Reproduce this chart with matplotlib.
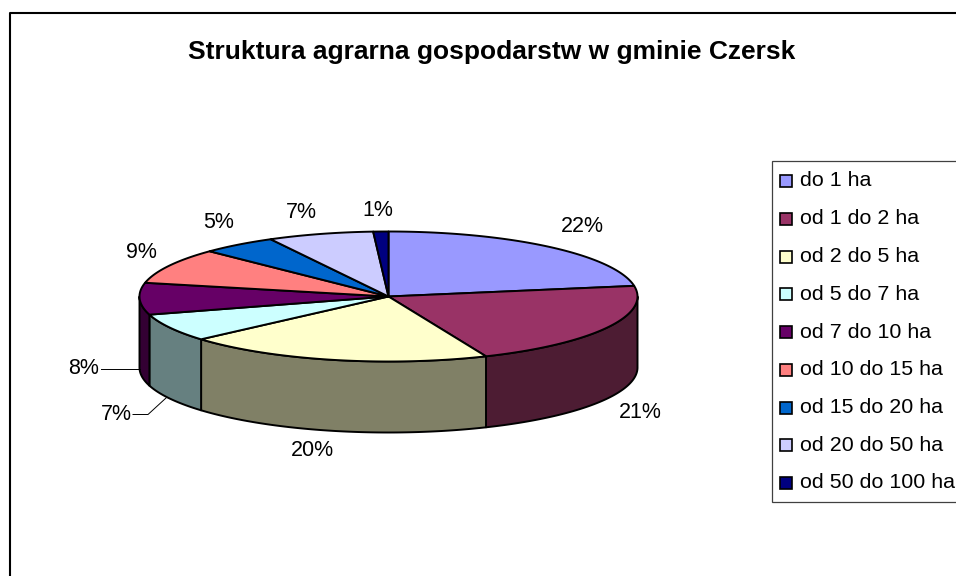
import numpy as np
import matplotlib
matplotlib.use("Agg")
import matplotlib.pyplot as plt
from matplotlib.patches import Polygon, Rectangle

plt.rcParams['font.family'] = ['Liberation Sans', 'DejaVu Sans']

# Chart data
categories = ["do 1 ha", "od 1 do 2 ha", "od 2 do 5 ha", "od 5 do 7 ha", "od 7 do 10 ha",
              "od 10 do 15 ha", "od 15 do 20 ha", "od 20 do 50 ha", "od 50 do 100 ha"]
values = [22, 21, 20, 7, 8, 9, 5, 7, 1]
colors = ["#9999FF", "#993366", "#FFFFCC", "#CCFFFF", "#660066",
          "#FF8080", "#0066CC", "#CCCCFF", "#000080"]
side_colors = ["#4D1A33", "#4D1C33", "#808066", "#668080", "#330033",
               "#804040", "#003366", "#666680", "#000040"]
title = "Struktura agrarna gospodarstw w gminie Czersk"

# Layout in pixels
cx, cy = 388.5, 296.5
rx, ry = 249, 65
depth = 71
label_xy = [(582, 226), (640, 412), (312, 451), (116, 414), (84, 368),
            (141, 253), (219, 223), (301, 212), (378, 210)]

fig = plt.figure(figsize=(9.56, 5.76), dpi=100)
ax = fig.add_axes([0, 0, 1, 1])
ax.set_xlim(0, 956)
ax.set_ylim(576, 0)
ax.axis("off")

# Outer chart frame, cut off by the image on the right and bottom
ax.plot([10.5, 10.5, 956], [576, 12.5, 12.5], color="black", lw=1.5, solid_capstyle="butt")


def warp(a):
    # the 3D projection in the original pushes the slice edges round a little
    return a + 2.2 * np.sin(np.radians(a) / 2)


def arc(a0, a1, dy=0):
    # angles in degrees, clockwise from 12 o'clock
    t = np.radians(np.linspace(a0, a1, max(int(abs(a1 - a0) * 2), 2)))
    return np.column_stack([cx + rx * np.sin(t), cy - ry * np.cos(t) + dy])


edges = warp(np.cumsum([0] + values) / sum(values) * 360)

# Side walls, only the front half of the pie shows
for i in range(len(values)):
    a0, a1 = max(edges[i], 90), min(edges[i + 1], 270)
    if a1 <= a0:
        continue
    pts = np.vstack([arc(a0, a1), arc(a0, a1, depth)[::-1]])
    ax.add_patch(Polygon(pts, closed=True, fc=side_colors[i], ec="black", lw=1.4, joinstyle="round"))

# Top faces
for i in range(len(values)):
    pts = np.vstack([[(cx, cy)], arc(edges[i], edges[i + 1])])
    ax.add_patch(Polygon(pts, closed=True, fc=colors[i], ec="black", lw=1.4, joinstyle="round"))

# Percent labels
for v, (x, y) in zip(values, label_xy):
    ax.text(x, y, f"{v}%", fontsize=15.5, ha="center", va="center", color="black")

# Leader lines for the two small labels
ax.plot([101, 140], [368.5, 368.5], color="black", lw=0.7)
ax.plot([133, 148, 166], [414.5, 414.5, 398], color="black", lw=0.7)

# Title
ax.text(492, 52, title, fontsize=19, fontweight="bold", ha="center", va="center", color="black")

# Legend box, also running off the right side
ax.add_patch(Rectangle((772.5, 160.5), 200, 341, fc="white", ec="#404040", lw=0.9))
row_ys = 181 + np.arange(len(categories)) * 37.75
for name, col, y in zip(categories, colors, row_ys):
    ax.add_patch(Rectangle((780.5, y - 6), 12, 12, fc=col, ec="black", lw=1.2))
    ax.text(800, y, name, fontsize=15.4, ha="left", va="center", color="black", clip_on=True)

fig.savefig("out.png", dpi=100)
